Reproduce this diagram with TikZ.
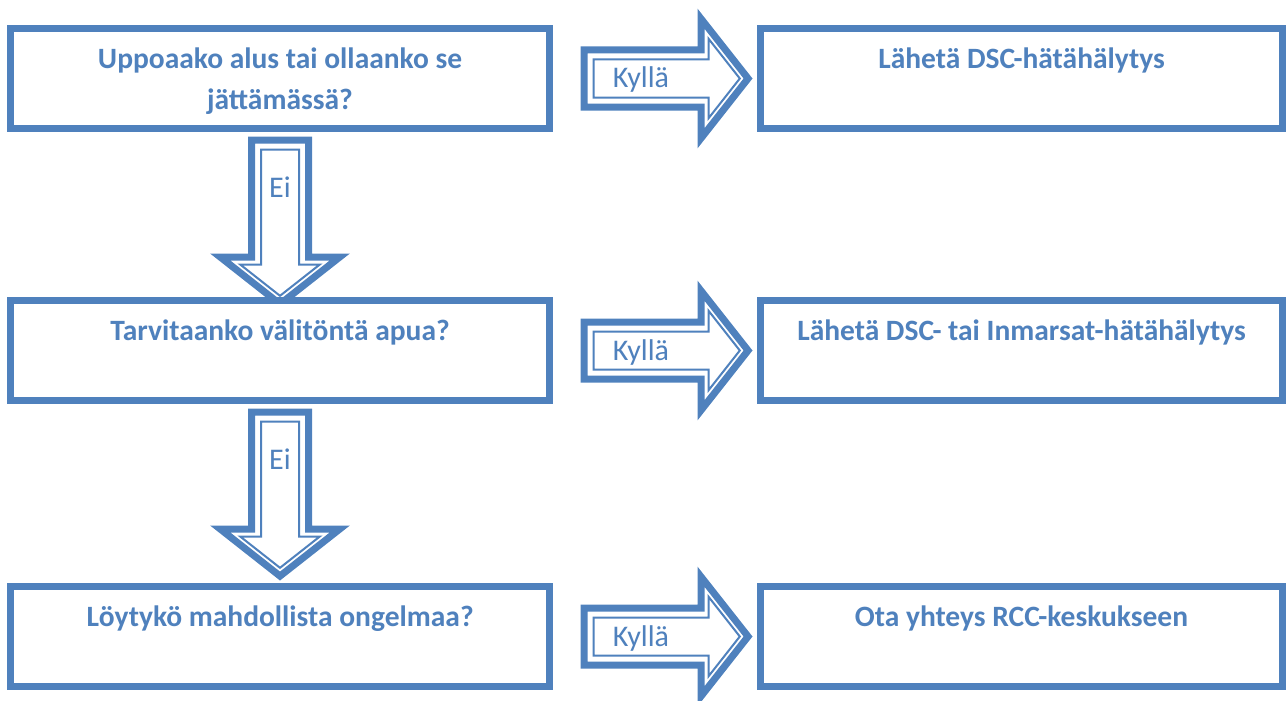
\documentclass[tikz,border=0pt]{standalone}
\usepackage{fontspec}
\setmainfont{Carlito}
\usetikzlibrary{positioning,backgrounds}
\definecolor{wordblue}{HTML}{4F81BD}

% 二重線の矢印 (#1 = 先端, #2 = 向き)
\newcommand{\blockarrow}[2]{%
  \begin{scope}[shift={#1},rotate=#2]
    \draw[wordblue,line width=7pt,fill=white] (-4.45,0) -- (-51.5,59.8) -- (-51.5,28.5) -- (-168.5,28.5)
      -- (-168.5,-28.5) -- (-51.5,-28.5) -- (-51.5,-59.8) -- cycle;
    \draw[wordblue,line width=2pt] (-12.7,0) -- (-44,39.8) -- (-44,19) -- (-159,19)
      -- (-159,-19) -- (-44,-19) -- (-44,-39.8) -- cycle;
  \end{scope}}

\begin{document}
\begin{tikzpicture}[x=1pt,y=-1pt,
  box/.style={draw=wordblue,line width=7pt,fill=white,minimum width=539pt,minimum height=100pt,
    inner sep=0pt,outer sep=0pt},
  abox/.style={box,minimum width=522pt},
  qtext/.style={text=wordblue,font=\fontsize{29.5}{41}\selectfont\bfseries,align=center,anchor=base,inner sep=0pt},
  ans/.style={text=wordblue,font=\fontsize{30}{36}\selectfont,anchor=base,inner sep=0pt}]
   \useasboundingbox (0,0) rectangle (1287,701);

   % 箱
   \node[box] (q1) at (280,78.5) {};
   \node[box,below=172pt of q1] (q2) {};
   \node[box,below=186pt of q2] (q3) {};
   \node[abox,right=211pt of q1] (a1) {};
   \node[abox,right=211pt of q2] (a2) {};
   \node[abox,right=211pt of q3] (a3) {};

   % 文字 (二行のものは最後の行が基準)
   \node[qtext] (q1t) at ([yshift=-81pt]q1.north) {Uppoaako alus tai ollaanko se\\jättämässä?};
   \node[qtext] (q2t) at ([yshift=-40pt]q2.north) {Tarvitaanko välitöntä apua?};
   \node[qtext] (q3t) at ([yshift=-40pt]q3.north) {Löytykö mahdollista ongelmaa?};
   \node[qtext] (a1t) at ([yshift=-40pt]a1.north) {Lähetä DSC-hätähälytys};
   \node[qtext] (a2t) at ([yshift=-40pt]a2.north) {Lähetä DSC- tai Inmarsat-hätähälytys};
   \node[qtext] (a3t) at ([yshift=-40pt]a3.north) {Ota yhteys RCC-keskukseen};

   % 矢印
   \coordinate (v1) at ([yshift=-180pt]q1.south);
   \coordinate (v2) at ([yshift=-180pt]q2.south);
   \coordinate (h1) at ([xshift=-8pt]a1.west);
   \coordinate (h2) at ([xshift=-8pt]a2.west);
   \coordinate (h3) at ([xshift=-8pt]a3.west);
   \begin{scope}[on background layer]
     \blockarrow{(v1)}{-90}
     \blockarrow{(v2)}{-90}
     \blockarrow{(h1)}{0}
     \blockarrow{(h2)}{0}
     \blockarrow{(h3)}{0}
   \end{scope}
   \node[ans] (e1) at ([yshift=111.5pt]v1) {Ei};
   \node[ans] (e2) at ([yshift=111.5pt]v2) {Ei};
   \node[ans] (k1) at ([xshift=-111.5pt,yshift=-9.5pt]h1) {Kyllä};
   \node[ans] (k2) at ([xshift=-111.5pt,yshift=-9.5pt]h2) {Kyllä};
   \node[ans] (k3) at ([xshift=-111.5pt,yshift=-9.5pt]h3) {Kyllä};

\end{tikzpicture}
\end{document}
